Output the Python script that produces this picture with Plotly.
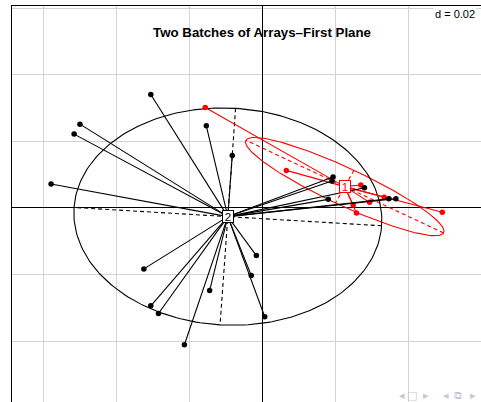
import numpy as np
import plotly.graph_objects as go

# ---- data ----
group_labels = ["1", "2"]
group_colors = ["red", "black"]

batch1_x = [-0.0156, 0.0066, 0.0270, 0.0249, 0.0258, 0.0294, 0.0334, 0.0493]
batch1_y = [0.0302, 0.0113, 0.0069, 0.0009, -0.0015, 0.0017, 0.0032, -0.0013]

batch2_x = [-0.0305, -0.0499, -0.0515, -0.0578, -0.0153, -0.0082, -0.0324,
            -0.0305, -0.0284, -0.0213, -0.0144, -0.0030, -0.0016, 0.0007,
            0.0194, 0.0191, 0.0181, 0.0280, 0.0347, 0.0366]
batch2_y = [0.0341, 0.0252, 0.0222, 0.0072, 0.0247, 0.0158, -0.0183,
            -0.0294, -0.0317, -0.0411, -0.0248, -0.0203, -0.0143, -0.0327,
            0.0093, 0.0081, 0.0026, 0.0061, 0.0028, 0.0028]

title_text = "Two Batches of Arrays\u2013First Plane"
grid_label = "d = 0.02"
grid_step = 0.02
cellipse = 1.5

x_range = [-0.0685, 0.0599]
y_range = [-0.0583, 0.0607]

groups = [(np.array(batch1_x), np.array(batch1_y)),
          (np.array(batch2_x), np.array(batch2_y))]

fig = go.Figure()


def ellipse_geom(x, y):
    cx, cy = x.mean(), y.mean()
    cov = np.cov(np.vstack([x, y]), bias=True)
    vals, vecs = np.linalg.eigh(cov)
    order = np.argsort(vals)[::-1]
    vals, vecs = vals[order], vecs[:, order]
    a = cellipse * np.sqrt(vals[0])
    b = cellipse * np.sqrt(vals[1])
    return cx, cy, a, b, vecs[:, 0], vecs[:, 1]


# ellipses and their dashed axes
for (x, y), col in zip(groups, group_colors):
    cx, cy, a, b, v1, v2 = ellipse_geom(x, y)
    t = np.linspace(0, 2 * np.pi, 241)
    ex = cx + a * np.cos(t) * v1[0] + b * np.sin(t) * v2[0]
    ey = cy + a * np.cos(t) * v1[1] + b * np.sin(t) * v2[1]
    fig.add_trace(go.Scatter(x=ex, y=ey, mode="lines",
                             line=dict(color=col, width=1.1),
                             hoverinfo="skip", showlegend=False))
    ax = [cx - a * v1[0], cx + a * v1[0], None, cx - b * v2[0], cx + b * v2[0]]
    ay = [cy - a * v1[1], cy + a * v1[1], None, cy - b * v2[1], cy + b * v2[1]]
    fig.add_trace(go.Scatter(x=ax, y=ay, mode="lines",
                             line=dict(color=col, width=1.1, dash="4px,3px"),
                             hoverinfo="skip", showlegend=False))

# stars and points
for (x, y), col in zip(groups, group_colors):
    cx, cy = x.mean(), y.mean()
    sx, sy = [], []
    for xi, yi in zip(x, y):
        sx += [cx, xi, None]
        sy += [cy, yi, None]
    fig.add_trace(go.Scatter(x=sx, y=sy, mode="lines",
                             line=dict(color=col, width=1.1),
                             hoverinfo="skip", showlegend=False))
    fig.add_trace(go.Scatter(x=x, y=y, mode="markers",
                             marker=dict(color=col, size=5.5, line=dict(width=0)),
                             showlegend=False))

annotations = []
# centroid labels
for (x, y), col, lab in zip(groups, group_colors, group_labels):
    annotations.append(dict(x=x.mean(), y=y.mean(), xref="x", yref="y",
                            text=lab, showarrow=False,
                            font=dict(size=11.5, color=col,
                                      family="Liberation Sans, Arial"),
                            bgcolor="white", bordercolor=col, borderwidth=1,
                            borderpad=0, width=10, height=11))

annotations.append(dict(x=(262 - 12) / 469, y=1 - (32.5 - 6) / 396,
                        xref="paper", yref="paper",
                        xanchor="center", yanchor="middle",
                        text="<b>" + title_text + "</b>", showarrow=False,
                        font=dict(size=13.3, color="black",
                                  family="Liberation Sans, Arial")))
annotations.append(dict(x=(477 - 12) / 469, y=1 - (14 - 6) / 396,
                        xref="paper", yref="paper",
                        xanchor="right", yanchor="middle",
                        text=grid_label, showarrow=False, bgcolor="white",
                        borderpad=1,
                        font=dict(size=11, color="black",
                                  family="Liberation Sans, Arial")))

# beamer navigation symbols
nav = [("\u25C2", 401.5), ("\u25A1", 412), ("\u25B8", 425.5),
       ("\u25C2", 446), ("\u29C9", 458), ("\u25B8", 473)]
for s, px in nav:
    annotations.append(dict(x=(px - 12) / 469, y=(402 - 395) / 396,
                            xref="paper", yref="paper", text=s,
                            xanchor="center", yanchor="middle",
                            showarrow=False,
                            font=dict(size=11, color="#c3c8db",
                                      family="DejaVu Sans")))

fig.update_layout(
    width=481, height=402,
    margin=dict(l=12, r=0, t=6, b=0, autoexpand=False),
    paper_bgcolor="white", plot_bgcolor="white",
    annotations=annotations,
    xaxis=dict(range=x_range, dtick=grid_step, tick0=0,
               showgrid=True, gridcolor="#d3d3d3", gridwidth=1,
               zeroline=True, zerolinecolor="black", zerolinewidth=1,
               showticklabels=False, ticks="", side="top",
               showline=True, linecolor="black", linewidth=1),
    yaxis=dict(range=y_range, dtick=grid_step, tick0=0,
               showgrid=True, gridcolor="#d3d3d3", gridwidth=1,
               zeroline=True, zerolinecolor="black", zerolinewidth=1,
               showticklabels=False, ticks="",
               showline=True, linecolor="black", linewidth=1),
)

fig.write_html("out.html", config={"displayModeBar": False},
               post_script="document.body.style.margin='0';"
                           "document.body.style.overflow='hidden';")
